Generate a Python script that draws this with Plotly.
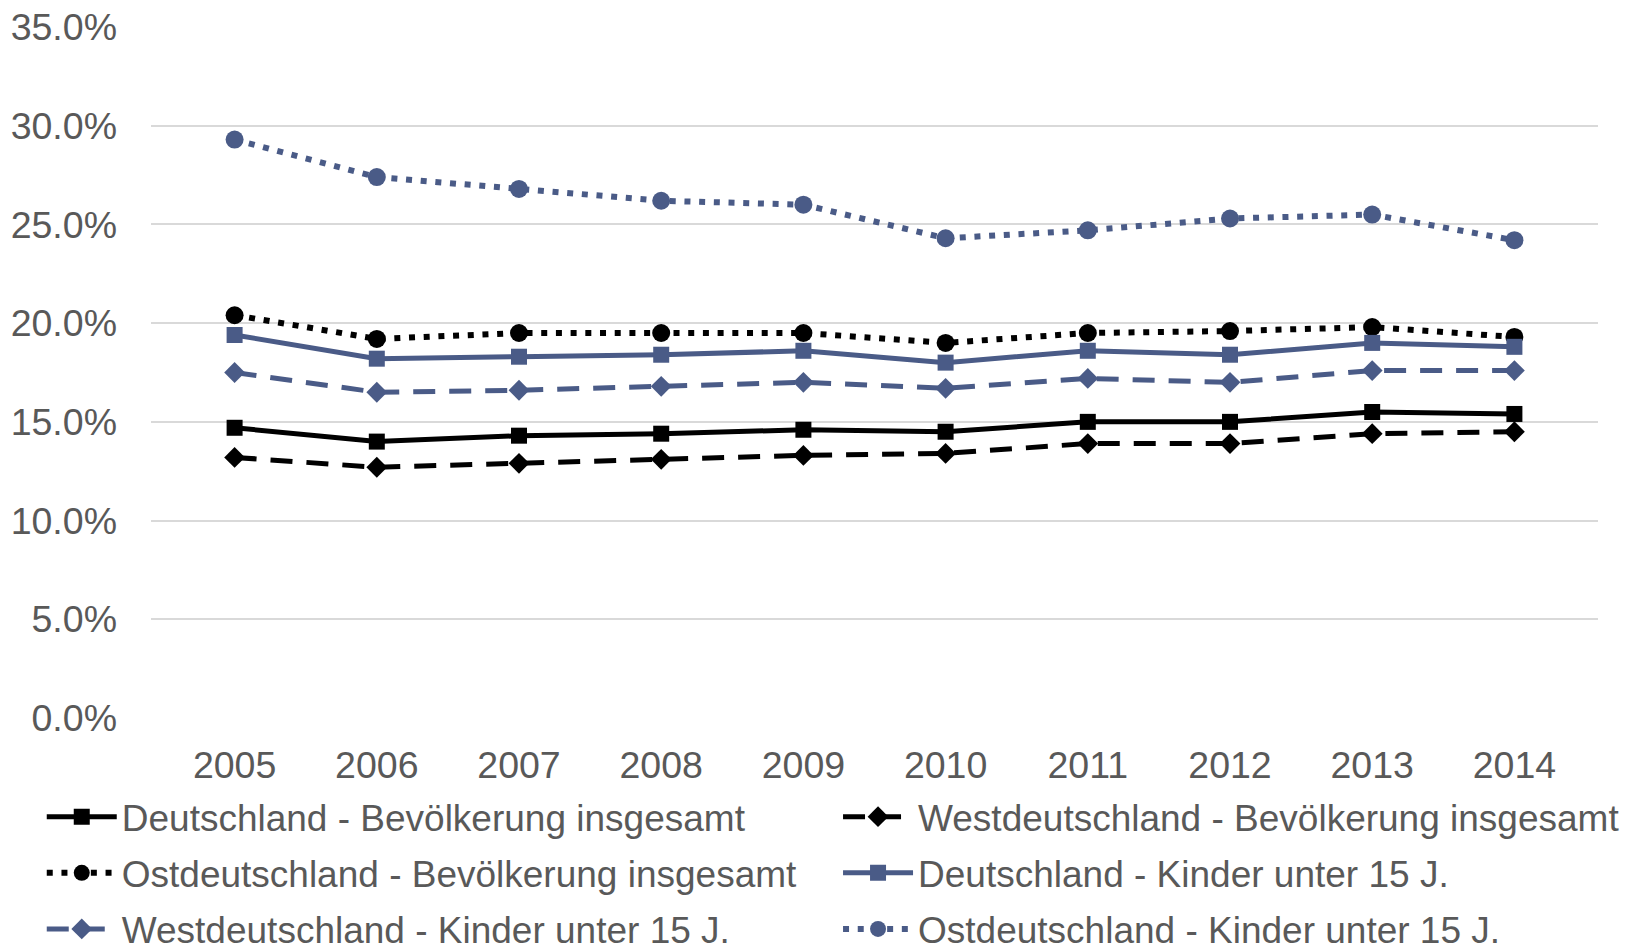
import plotly.graph_objects as go

YEARS = ["2005", "2006", "2007", "2008", "2009", "2010", "2011", "2012", "2013", "2014"]

NAMES = [
    "Deutschland - Bevölkerung insgesamt",
    "Westdeutschland - Bevölkerung insgesamt",
    "Ostdeutschland - Bevölkerung insgesamt",
    "Deutschland - Kinder unter 15 J.",
    "Westdeutschland - Kinder unter 15 J.",
    "Ostdeutschland - Kinder unter 15 J.",
]

d_bev = [0.147, 0.140, 0.143, 0.144, 0.146, 0.145, 0.150, 0.150, 0.155, 0.154]
w_bev = [0.132, 0.127, 0.129, 0.131, 0.133, 0.134, 0.139, 0.139, 0.144, 0.145]
o_bev = [0.204, 0.192, 0.195, 0.195, 0.195, 0.190, 0.195, 0.196, 0.198, 0.193]
d_kid = [0.194, 0.182, 0.183, 0.184, 0.186, 0.180, 0.186, 0.184, 0.190, 0.188]
w_kid = [0.175, 0.165, 0.166, 0.168, 0.170, 0.167, 0.172, 0.170, 0.176, 0.176]
o_kid = [0.293, 0.274, 0.268, 0.262, 0.260, 0.243, 0.247, 0.253, 0.255, 0.242]

BLACK = "#000000"
BLUE = "#4A5B87"
TEXT = "#595959"
FONT = "Liberation Sans, Arial, sans-serif"
FS = 37.5
LEG_FS = 37

DOT = "6px,8.7px"
DASH = "22px,14px"

# (values, colour, dash, line width, marker, size, legend column)
styles = [
    (d_bev, BLACK, "solid", 5, "square", 16, "legend"),
    (w_bev, BLACK, DASH, 5, "diamond", 16, "legend2"),
    (o_bev, BLACK, DOT, 6, "circle", 18, "legend"),
    (d_kid, BLUE, "solid", 5, "square", 16, "legend2"),
    (w_kid, BLUE, DASH, 5, "diamond", 16, "legend"),
    (o_kid, BLUE, DOT, 6, "circle", 18, "legend2"),
]

fig = go.Figure()
for i, (name, (vals, color, dash, lw, symbol, size, leg)) in enumerate(zip(NAMES, styles)):
    fig.add_trace(go.Scatter(
        x=YEARS, y=vals, name=name, mode="lines+markers",
        line={"color": color, "width": lw, "dash": dash},
        marker={"color": color, "symbol": symbol, "size": size},
        legend=leg, legendgroup=f"g{i}",
    ))

legend_common = {
    "orientation": "v", "xanchor": "left", "yanchor": "top", "y": -0.0986,
    "itemwidth": 70, "font": {"size": LEG_FS, "color": TEXT, "family": FONT},
    "tracegroupgap": 5, "bgcolor": "rgba(0,0,0,0)",
}

# the page body keeps its default 8px margin: the figure starts at (8, 8)
fig.update_layout(
    width=1624, height=939,
    paper_bgcolor="white", plot_bgcolor="white",
    font={"family": FONT, "size": FS, "color": TEXT},
    margin={"l": 143, "r": 34, "t": 19, "b": 229, "autoexpand": False},
    showlegend=True,
    legend={**legend_common, "x": -0.0755},
    legend2={**legend_common, "x": 0.4748},
)
fig.update_xaxes(
    type="category", showgrid=False, showline=False, ticks="",
    ticklabelstandoff=21, tickfont={"size": FS, "color": TEXT}, automargin=False,
)
fig.update_yaxes(
    range=[0, 0.35], dtick=0.05, tickformat=".1%", showgrid=True,
    gridcolor="#D9D9D9", gridwidth=2, zeroline=False, showline=False,
    ticklabelstandoff=33, ticklabeloverflow="allow",
    tickfont={"size": FS, "color": TEXT}, automargin=False,
)

fig.write_html("out.html")
